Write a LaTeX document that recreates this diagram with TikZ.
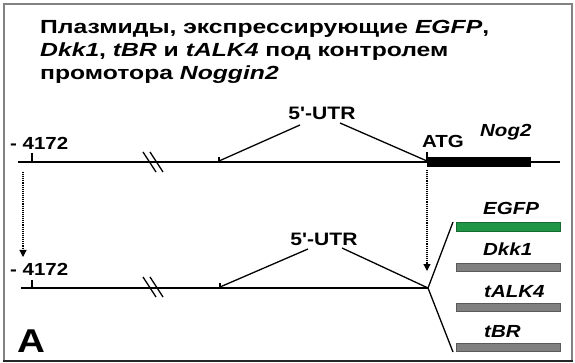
\documentclass[tikz,border=0pt]{standalone}
\usepackage{fontspec}
\setmainfont{Liberation Sans}
\newfontfamily\titlefont[FakeStretch=1.30]{Liberation Sans}
\newfontfamily\labfont[FakeStretch=1.17]{Liberation Sans}
\usetikzlibrary{arrows.meta}
\definecolor{framegray}{RGB}{130,130,130}
\definecolor{egfpgreen}{RGB}{30,150,70}
\definecolor{bargray}{RGB}{128,128,128}
\definecolor{bardark}{RGB}{90,90,90}
\begin{document}
\begin{tikzpicture}[x=1pt,y=-1pt,
  ttl/.style={inner sep=0pt, anchor=base west, font=\titlefont\fontsize{19}{23}\selectfont\bfseries},
  txt/.style={inner sep=0pt, anchor=base west, font=\labfont\fontsize{17.5}{20}\selectfont\bfseries},
  gene/.style={inner sep=0pt, anchor=base west, font=\labfont\fontsize{17.5}{20}\selectfont\bfseries\itshape},
  utr/.style={inner sep=0pt, anchor=center, font=\labfont\fontsize{18}{20}\selectfont\bfseries},
  dna/.style={line width=2.8pt, black},
  branch/.style={line width=1.3pt, black},
  tick/.style={line width=1.1pt, black},
  brk/.style={line width=1.3pt, black},
  darrow/.style={line width=1.1pt, densely dotted, -{Triangle[width=7pt,length=7pt]}},
  bar/.style={draw=bardark, line width=0.8pt, fill=bargray}
]
\useasboundingbox (0,0) rectangle (575,363);
% frame
\draw[framegray, line width=1.5pt] (4,360) -- (4,4) -- (572,4) -- (572,360);
\draw[black!85, line width=2pt] (3,360.5) -- (573,360.5);

% title
\node[ttl] (title1) at (40,34) {Плазмиды, экспрессирующие \textit{EGFP},};
\node[ttl] (title2) at (40,57) {\textit{Dkk1}, \textit{tBR} и \textit{tALK4} под контролем};
\node[ttl] (title3) at (40,80) {промотора \textit{Noggin2}};

% ---- top construct ----
\coordinate (ts) at (18,162);
\coordinate (te) at (560,162);
\draw[dna] (ts) -- (te);
\node[txt] (tnum) at (10,149.5) {- 4172};
\draw[tick] (32,153) -- (32,162);
\draw[brk] (143,152) -- (156,172);
\draw[brk] (150,152) -- (163,172);
\node[utr] (tutr) at (322,113.5) {5'-UTR};
\coordinate (tl) at (219,161);
\coordinate (tr) at (427,161);
\draw[branch] (300,125) -- (tl);
\draw[branch] (340,123) -- (tr);
\draw[tick] (219,157) -- (219,162);
\draw[tick] (427,152) -- (427,162);
\node[txt] (atg) at (422,148) {ATG};
\node[gene] (nog) at (480,137) {Nog2};
\fill[black] (427,157) rectangle (531,167.5);

% dotted arrows
\draw[darrow] (23,172) -- (23,257);
\draw[darrow] (427,170) -- (427,271);

% ---- bottom construct ----
\coordinate (bs) at (21,288);
\coordinate (bj) at (428,288);
\draw[dna] (bs) -- (bj);
\node[txt] (bnum) at (10,275) {- 4172};
\draw[tick] (32,280) -- (32,288);
\draw[brk] (143,277) -- (156,297);
\draw[brk] (150,277) -- (163,297);
\node[utr] (butr) at (324,239) {5'-UTR};
\draw[branch] (308,249) -- (220,287);
\draw[branch] (342,248) -- (bj);
\draw[tick] (220,283) -- (220,288);

% fan
\draw[branch] (bj) -- (453,222);
\draw[branch] (bj) -- (453,352);

% bars
\filldraw[draw=egfpgreen!70!black, line width=0.8pt, fill=egfpgreen] (456,222) rectangle (560,231);
\filldraw[bar] (456,263) rectangle (560,271.5);
\filldraw[bar] (456,303) rectangle (560,311.5);
\filldraw[bar] (456,343) rectangle (560,351.5);
\node[gene] (egfp) at (483,215) {EGFP};
\node[gene] (dkk) at (483,255) {Dkk1};
\node[gene] (talk) at (484,297) {tALK4};
\node[gene] (tbr) at (484,337) {tBR};

\node[txt, font=\labfont\fontsize{33}{36}\selectfont\bfseries] (A) at (17,352) {A};
\end{tikzpicture}
\end{document}
